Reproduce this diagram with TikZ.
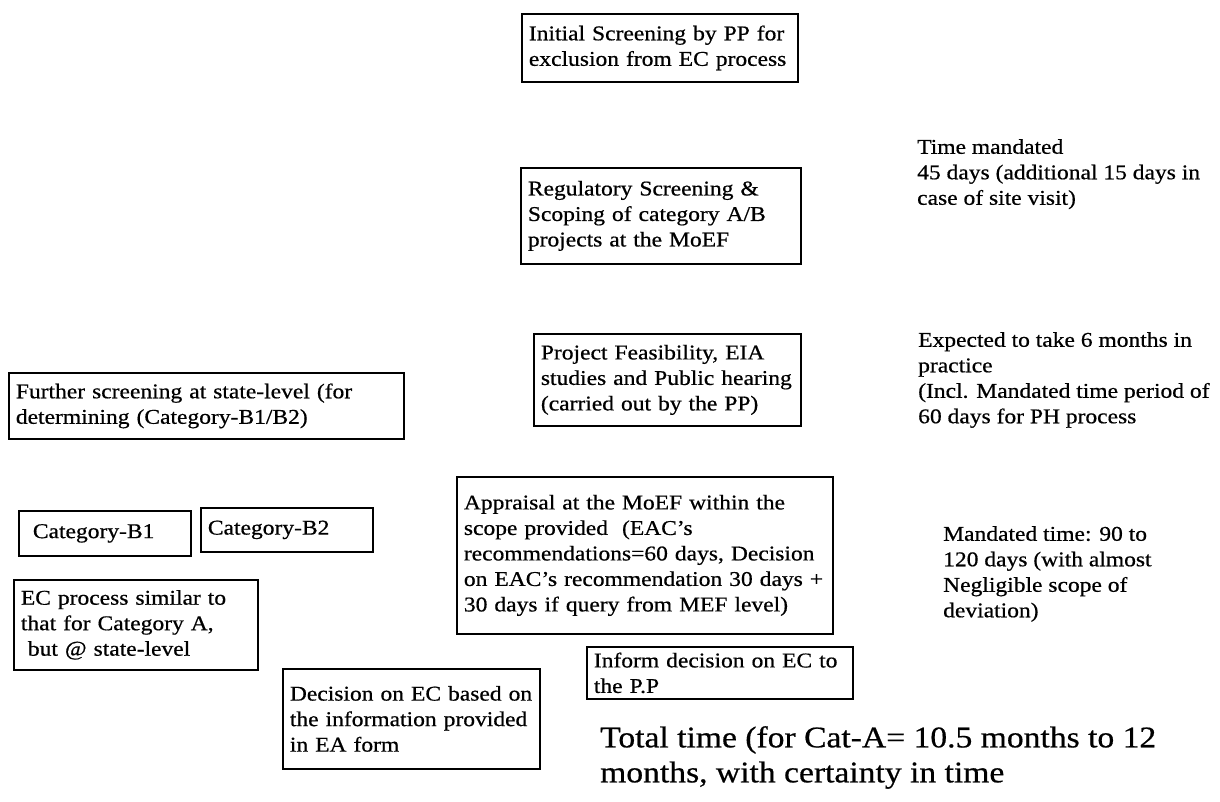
\documentclass[tikz,border=0pt]{standalone}
\usepackage{fontspec}
\setmainfont{Liberation Serif}[FakeStretch=1.12, FakeBold=0.6]

\tikzset{
  ecbox/.style={draw=black, line width=1.8pt, anchor=north west, align=left,
    inner xsep=7pt, inner ysep=4pt, font=\fontsize{21}{25.5}\selectfont},
  timenote/.style={anchor=north west, align=left, inner sep=0pt,
    font=\fontsize{21}{25.5}\selectfont},
  totalnote/.style={anchor=north west, align=left, inner sep=0pt,
    font=\fontsize{30}{35}\selectfont}
}

\begin{document}
\begin{tikzpicture}[x=1pt,y=-1pt]
\fill[white] (0,0) rectangle (1220,802);
\useasboundingbox (0,0) rectangle (1220,802);

\node[ecbox, text width=262pt, minimum height=68pt] (init) at (521,13)
  {Initial Screening by PP for\\exclusion from EC process};
\node[ecbox, text width=266pt, minimum height=96pt] (regscr) at (520,167)
  {Regulatory Screening \&\\Scoping of category A/B\\projects at the MoEF};
\node[ecbox, text width=381pt, minimum height=66pt] (further) at (8,372)
  {Further screening at state-level (for\\determining (Category-B1/B2)};
\node[ecbox, text width=253pt, minimum height=92pt] (feas) at (533,333)
  {Project Feasibility, EIA\\studies and Public hearing\\(carried out by the PP)};
\node[ecbox, text width=158pt, minimum height=45pt] (catbone) at (18,510)
  {\ Category-B1};
\node[ecbox, text width=158pt, minimum height=44pt] (catbtwo) at (200,507)
  {Category-B2};
\node[ecbox, text width=362pt, minimum height=157pt] (apprais) at (456,476)
  {Appraisal at the MoEF within the\\scope provided \ (EAC's\\recommendations=60 days, Decision\\on EAC's recommendation 30 days +\\30 days if query from MEF level)};
\node[ecbox, text width=230pt, minimum height=90pt] (ecproc) at (13,579)
  {EC process similar to\\that for Category A,\\\ but @ state-level};
\node[ecbox, text width=243pt, minimum height=100pt] (decis) at (282,668)
  {Decision on EC based on\\the information provided\\in EA form};
\node[ecbox, text width=252pt, minimum height=52pt] (inform) at (586,646)
  {Inform decision on EC to\\the P.P};

\node[timenote] (tmand) at (917,139)
  {Time mandated\\45 days (additional 15 days in\\case of site visit)};
\node[timenote] (expect) at (918,332)
  {Expected to take 6 months in\\practice\\(Incl. Mandated time period of\\60 days for PH process};
\node[timenote] (mandtime) at (943,526)
  {Mandated time: 90 to\\120 days (with almost\\Negligible scope of\\deviation)};
\node[totalnote] (total) at (600,726)
  {Total time (for Cat-A= 10.5 months to 12\\months, with certainty in time};
\end{tikzpicture}
\end{document}
